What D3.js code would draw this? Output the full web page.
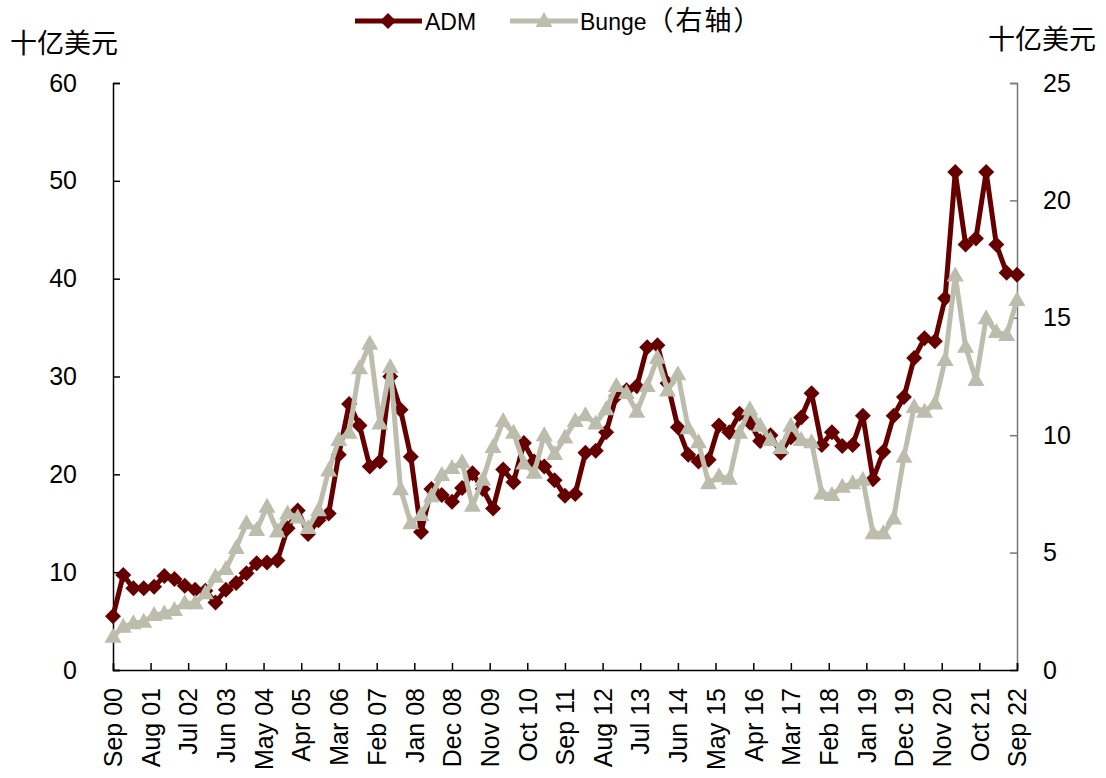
<!DOCTYPE html>
<html><head><meta charset="utf-8">
<script src="https://cdn.jsdelivr.net/npm/d3@7"></script>
<style>body{margin:0;background:#fff} svg{display:block}</style>
</head><body><svg id="c" width="1106" height="778"></svg>
<script>
// Quarterly market cap, Sep 2000 – Sep 2022 (十亿美元)
const adm = [5.5, 9.7, 8.35, 8.35, 8.5, 9.6, 9.3, 8.6, 8.2, 8.1,
  6.9, 8.2, 8.9, 9.9, 10.9, 11.0, 11.2, 14.5, 16.3, 13.9,
  15.3, 16.0, 22.0, 27.2, 25.0, 20.8, 21.3, 30.0, 26.6, 21.8,
  14.1, 18.5, 17.9, 17.2, 18.6, 20.1, 18.5, 16.5, 20.5, 19.2,
  23.2, 21.3, 20.8, 19.4, 17.8, 18.0, 22.2, 22.4, 24.3, 28.0,
  28.6, 29.0, 33.0, 33.2, 29.3, 24.8, 22.0, 21.3, 21.5, 25.0,
  24.3, 26.2, 25.3, 23.4, 24.0, 22.2, 23.8, 25.8, 28.3, 23.0,
  24.3, 22.9, 23.0, 26.0, 19.5, 22.3, 26.0, 27.9, 31.9, 33.9,
  33.6, 38.0, 50.9, 43.5, 44.1, 50.9, 43.5, 40.6, 40.4];
const bunge = [1.42, 1.84, 1.99, 2.06, 2.34, 2.41, 2.56, 2.84, 2.84, 3.27,
  3.97, 4.3, 5.2, 6.25, 5.96, 6.95, 5.9, 6.67, 6.5, 6.05,
  6.8, 8.5, 9.8, 10.1, 12.85, 13.9, 10.5, 12.9, 7.7, 6.25,
  6.6, 7.4, 8.3, 8.6, 8.85, 7.0, 8.1, 9.5, 10.6, 10.1,
  8.8, 8.4, 10.0, 9.2, 9.9, 10.6, 10.85, 10.5, 11.1, 12.1,
  11.8, 11.0, 12.1, 13.3, 11.9, 12.6, 10.3, 9.7, 7.95, 8.25,
  8.15, 10.1, 11.1, 10.4, 9.8, 9.45, 10.4, 9.8, 9.7, 7.52,
  7.45, 7.8, 7.95, 8.1, 5.82, 5.82, 6.45, 9.08, 11.2, 11.0,
  11.35, 13.2, 16.8, 13.77, 12.35, 14.98, 14.4, 14.27, 15.76];
const leftTicks = [0, 10, 20, 30, 40, 50, 60];
const rightTicks = [0, 5, 10, 15, 20, 25];
const xTickLabels = ["Sep 00","Aug 01","Jul 02","Jun 03","May 04","Apr 05","Mar 06","Feb 07",
  "Jan 08","Dec 08","Nov 09","Oct 10","Sep 11","Aug 12","Jul 13","Jun 14","May 15","Apr 16",
  "Mar 17","Feb 18","Jan 19","Dec 19","Nov 20","Oct 21","Sep 22"];
const seriesNames = ["ADM", "Bunge", "（右轴）"];
const unitLabel = "十亿美元";

const startDate = new Date(2000, 8, 1);
const dates = adm.map((_, i) => d3.timeMonth.offset(startDate, 3 * i));
const tickDates = xTickLabels.map((_, k) => d3.timeMonth.offset(startDate, 11 * k));

const svg = d3.select("#c");
const L = 113, R = 1017, T = 83, B = 670;
const x = d3.scaleTime().domain([startDate, d3.timeMonth.offset(startDate, 264)]).range([L, R]);
const yL = d3.scaleLinear().domain([0, 60]).range([B, T]);
const yR = d3.scaleLinear().domain([0, 25]).range([B, T]);

const fontNum = "Liberation Sans, Arial, sans-serif";
const fontCJK = "Noto Sans CJK SC, sans-serif";
const ADMC = "#660000", BGC = "#BDBDAD";

// axes
const axL = svg.append("g").attr("transform", `translate(${L},0)`)
  .call(d3.axisLeft(yL).tickValues(leftTicks).tickSize(-7).tickPadding(36));
const axR = svg.append("g").attr("transform", `translate(${R},0)`)
  .call(d3.axisRight(yR).tickValues(rightTicks).tickSize(-7).tickPadding(26));
const axB = svg.append("g").attr("transform", `translate(0,${B})`)
  .call(d3.axisBottom(x).tickValues(tickDates).tickSize(-7).tickFormat((d, i) => xTickLabels[i]));
[axL, axR, axB].forEach(g => {
  g.selectAll("text").attr("font-family", fontNum).attr("font-size", 25).attr("fill", "#000");
});
axL.select(".domain").attr("stroke", "#000").attr("stroke-width", 1.5);
axL.selectAll(".tick line").attr("stroke", "#000").attr("stroke-width", 1.5);
axR.select(".domain").attr("stroke", "#777").attr("stroke-width", 1.5);
axR.selectAll(".tick line").attr("stroke", "#777").attr("stroke-width", 1.5);
axB.select(".domain").attr("stroke", "#000").attr("stroke-width", 1.5);
axB.selectAll(".tick line").attr("stroke", "#000").attr("stroke-width", 1.5);
axB.selectAll(".tick text")
  .attr("text-anchor", "end").attr("dy", "0.35em").attr("y", 0)
  .attr("transform", "translate(0,18) rotate(-90)");

// unit labels
svg.append("text").attr("x", 10).attr("y", 53).text(unitLabel)
  .attr("font-family", fontCJK).attr("font-size", 27).attr("fill", "#000");
svg.append("text").attr("x", 988).attr("y", 49).text(unitLabel)
  .attr("font-family", fontCJK).attr("font-size", 27).attr("fill", "#000");

const diamond = "M0,-8L8,0L0,8L-8,0Z";
const triangle = "M0,-9L8.5,6L-8.5,6Z";

function drawSeries(vals, ys, color, shape) {
  const line = d3.line().x((d, i) => x(dates[i])).y(d => ys(d));
  svg.append("path").datum(vals).attr("d", line).attr("fill", "none")
    .attr("stroke", color).attr("stroke-width", 5).attr("stroke-linejoin", "round");
  svg.append("g").selectAll("path").data(vals).join("path")
    .attr("d", shape).attr("fill", color)
    .attr("transform", (d, i) => `translate(${x(dates[i])},${ys(d)})`);
}
drawSeries(adm, yL, ADMC, diamond);
drawSeries(bunge, yR, BGC, triangle);

// legend
const lg = svg.append("g");
lg.append("line").attr("x1", 355).attr("x2", 422).attr("y1", 21).attr("y2", 21)
  .attr("stroke", ADMC).attr("stroke-width", 5);
lg.append("path").attr("d", diamond).attr("fill", ADMC).attr("transform", "translate(388,21)");
lg.append("text").attr("x", 425).attr("y", 30).text(seriesNames[0])
  .attr("font-family", fontNum).attr("font-size", 23).attr("fill", "#000");
lg.append("line").attr("x1", 510).attr("x2", 578).attr("y1", 21).attr("y2", 21)
  .attr("stroke", BGC).attr("stroke-width", 5);
lg.append("path").attr("d", triangle).attr("fill", BGC).attr("transform", "translate(544,21)");
const bt = lg.append("text").attr("x", 580).attr("y", 30)
  .attr("font-family", fontNum).attr("font-size", 23).attr("fill", "#000");
bt.append("tspan").text(seriesNames[1]);
bt.append("tspan").text(seriesNames[2]).attr("font-family", fontCJK).attr("font-size", 27)
  .attr("letter-spacing", 2);
</script></body></html>
